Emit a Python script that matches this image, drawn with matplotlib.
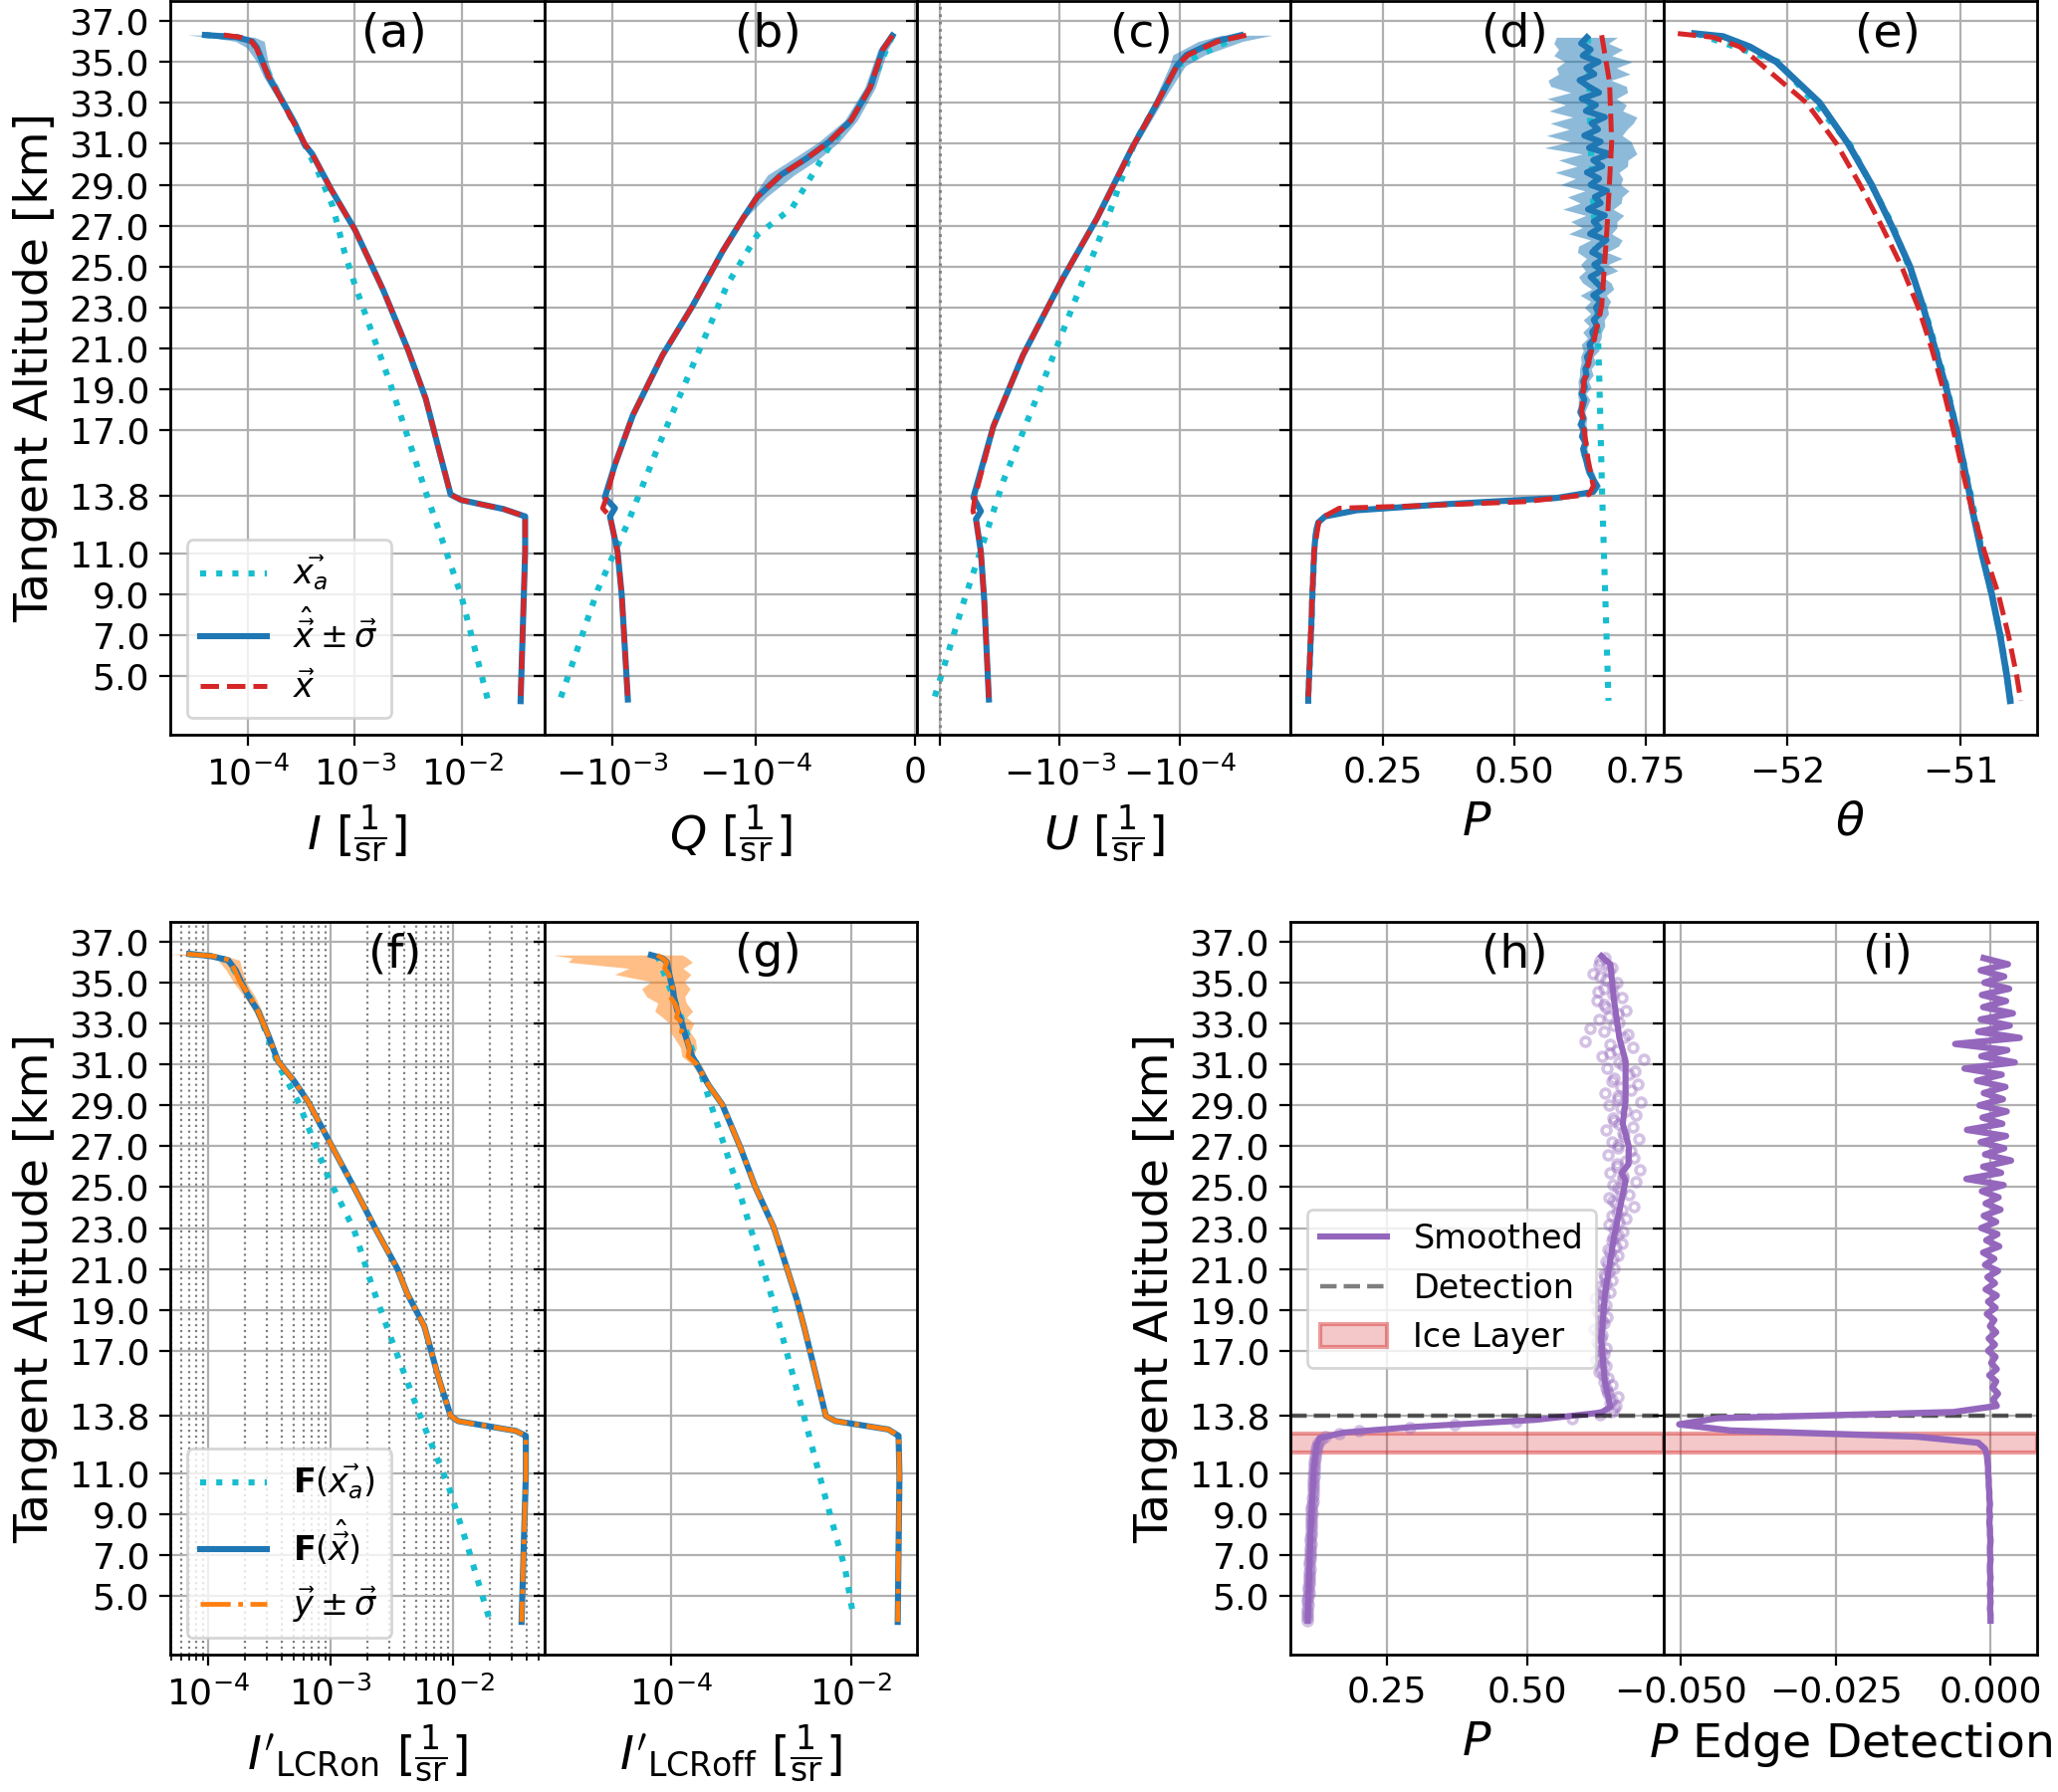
import numpy as np
import matplotlib
matplotlib.use("Agg")
import matplotlib.pyplot as plt
from matplotlib.ticker import (NullLocator, FixedLocator, FormatStrFormatter,
                               LogLocator, NullFormatter)
from matplotlib.lines import Line2D
from matplotlib.patches import Patch

plt.rcParams.update({
    "font.family": ["DejaVu Sans"],
    "xtick.labelsize": 13, "ytick.labelsize": 13,
    "axes.labelsize": 17, "legend.fontsize": 12,
    "xtick.major.size": 4, "ytick.major.size": 4,
    "axes.linewidth": 1.0,
})

C_APR, C_RET, C_TRUE, C_MEAS, C_PUR = "#17becf", "#1f77b4", "#d62728", "#ff7f0e", "#9467bd"
LW_APR, LW_RET, LW_TRUE = 2.2, 2.2, 1.8

# ---------------- data ----------------
yticks = [5, 7, 9, 11, 13.8, 17, 19, 21, 23, 25, 27, 29, 31, 33, 35, 37]
detection_alt = 13.8
ice_layer = [12.0, 12.95]

# (a) I
a_alt = [36.31, 36.2, 36.0, 35.7, 35.0, 34.28, 33.15, 32.0, 30.96, 30.5,
         28.77, 26.8, 23.87, 20.94, 18.55, 16.0, 13.87, 13.6, 13.16, 12.8, 11.07, 3.78]
a_ret = [4.0e-5, 8.0e-5, 1.1e-4, 1.22e-4, 1.38e-4, 1.56e-4, 2.07e-4, 2.75e-4, 3.4e-4, 4.0e-4,
         6.0e-4, 1.0e-3, 1.83e-3, 3.12e-3, 4.57e-3, 6.1e-3, 7.8e-3, 9.8e-3, 2.43e-2, 3.86e-2, 3.86e-2, 3.5e-2]
a_rel = [0.32, 0.45, 0.3, 0.2, 0.12, 0.1, 0.08, 0.07, 0.05, 0.03,
         0.02, 0.02, 0.02, 0.02, 0.02, 0.02, 0.02, 0.02, 0.02, 0.02, 0.02, 0.02]
a_true = [6.0e-5, 8.5e-5, 1.08e-4, 1.2e-4, 1.37e-4, 1.58e-4, 2.05e-4, 2.7e-4, 3.45e-4, 4.0e-4,
          6.0e-4, 1.0e-3, 1.83e-3, 3.12e-3, 4.57e-3, 6.1e-3, 7.8e-3, 9.8e-3, 2.43e-2, 3.86e-2, 3.86e-2, 3.5e-2]
a_apr_alt = [36.31, 36.2, 36.0, 35.0, 33.15, 30.96, 29.66, 27.96, 25.7, 24.1, 19.3, 14.0, 8.93, 3.86]
a_apr = [4.0e-5, 8.0e-5, 1.1e-4, 1.38e-4, 2.07e-4, 3.4e-4, 4.5e-4, 6.2e-4, 8.0e-4, 1.0e-3,
         2.13e-3, 4.57e-3, 9.8e-3, 1.73e-2]

# (b) Q
b_alt = [36.28, 35.6, 33.74, 32.14, 31.08, 30.28, 29.48, 28.4, 27.34, 25.75,
         23.07, 20.67, 17.74, 15.33, 13.73, 13.2, 12.8, 11.07, 8.93, 3.86]
b_ret = [-1.4e-5, -2.0e-5, -2.8e-5, -4.0e-5, -5.4e-5, -6.8e-5, -8.4e-5, -9.9e-5, -1.23e-4, -1.7e-4,
         -2.76e-4, -4.47e-4, -7.2e-4, -9.6e-4, -1.13e-3, -9.6e-4, -1.04e-3, -9.2e-4, -8.6e-4, -7.8e-4]
b_true = [-1.4e-5, -2.0e-5, -2.8e-5, -4.0e-5, -5.4e-5, -6.8e-5, -8.4e-5, -9.9e-5, -1.23e-4, -1.7e-4,
          -2.76e-4, -4.47e-4, -7.2e-4, -9.6e-4, -1.1e-3, -1.17e-3, -1.04e-3, -9.2e-4, -8.6e-4, -7.8e-4]
b_rel = [0.15, 0.15, 0.12, 0.10, 0.12, 0.12, 0.10, 0.06, 0.03, 0.02,
         0.02, 0.02, 0.02, 0.02, 0.02, 0.02, 0.02, 0.02, 0.02, 0.02]
b_apr_alt = [36.28, 33.74, 32.14, 31.0, 27.87, 26.54, 24.14, 20.67, 16.13, 12.4, 9.2, 3.86]
b_apr = [-1.4e-5, -2.8e-5, -4.0e-5, -5.25e-5, -7.7e-5, -9.9e-5, -1.57e-4, -2.56e-4, -4.84e-4, -7.9e-4, -1.27e-3, -2.32e-3]

# (c) U
c_alt = [36.3, 36.0, 35.34, 34.8, 32.95, 30.8, 27.36, 24.4, 20.67, 17.2,
         13.73, 13.06, 12.67, 11.07, 8.66, 3.86]
c_ret = [-3.1e-5, -5.0e-5, -8.8e-5, -1.06e-4, -1.56e-4, -2.5e-4, -4.9e-4, -9.5e-4, -2.03e-3, -3.58e-3,
         -5.25e-3, -4.55e-3, -5.0e-3, -4.55e-3, -4.26e-3, -3.9e-3]
c_true = [-2.8e-5, -4.8e-5, -8.5e-5, -1.06e-4, -1.56e-4, -2.5e-4, -4.9e-4, -9.5e-4, -2.03e-3, -3.58e-3,
          -5.1e-3, -5.3e-3, -5.0e-3, -4.55e-3, -4.26e-3, -3.9e-3]
c_rel = [0.45, 0.4, 0.3, 0.15, 0.08, 0.05, 0.03, 0.02, 0.02, 0.02,
         0.02, 0.02, 0.02, 0.02, 0.02, 0.02]
c_apr_alt = [36.3, 34.8, 32.95, 31.0, 27.36, 23.07, 19.33, 14.53, 11.6, 8.66, 3.86]
c_apr = [-3.1e-5, -1.06e-4, -1.56e-4, -2.4e-4, -4.0e-4, -7.8e-4, -1.39e-3, -2.96e-3, -4.3e-3, -6.3e-3, -1.12e-2]

# (d) P retrieved on fine grid, (h) raw points, (i) edge detection
alt_p = np.round(np.arange(3.8, 36.25, 0.3), 2)
p_ret = [.108, .108, .109, .109, .110, .110, .111, .111, .112, .112,
         .113, .113, .114, .114, .115, .115, .115, .116, .116, .117,
         .117, .118, .118, .119, .119, .120, .121, .122, .124, .127,
         .140, .200, .370, .580, .650, .657, .650, .644, .640, .637,
         .634, .631, .635, .629, .632, .627, .631, .626, .630, .633,
         .628, .634, .631, .637, .635, .641, .638, .646, .643, .652,
         .648, .657, .651, .662, .655, .664, .650, .668, .657, .645,
         .666, .652, .671, .648, .660, .675, .644, .662, .651, .672,
         .640, .664, .653, .676, .645, .661, .638, .667, .650, .681,
         .642, .664, .633, .659, .647, .672, .636, .655, .628, .661,
         .641, .624, .652, .637, .660, .630, .645, .627, .638]
p_sig = [.003, .003, .003, .003, .003, .003, .003, .003, .003, .003,
         .003, .003, .003, .003, .003, .003, .003, .003, .003, .003,
         .003, .003, .003, .003, .003, .003, .003, .003, .004, .004,
         .004, .005, .006, .006, .006, .007, .006, .008, .007, .006,
         .008, .007, .006, .008, .007, .009, .007, .008, .009, .011,
         .008, .012, .010, .013, .011, .014, .012, .015, .016, .013,
         .018, .015, .020, .017, .022, .019, .025, .021, .027, .023,
         .031, .026, .034, .028, .038, .030, .041, .033, .044, .036,
         .048, .039, .052, .042, .057, .045, .061, .048, .066, .052,
         .085, .058, .072, .055, .079, .061, .070, .058, .066, .054,
         .072, .060, .068, .057, .064, .055, .061, .052, .058]
p_edge = [.0000, .0000, -.0001, .0000, -.0001, .0000, -.0001, .0000, -.0001, -.0001,
          .0000, -.0001, -.0001, .0000, -.0001, -.0001, -.0002, -.0001, -.0002, -.0001,
          -.0002, -.0002, -.0003, -.0003, -.0004, -.0004, -.0005, -.0006, -.0009, -.0020,
          -.0120, -.0420, -.0502, -.0440, -.0060, .0010, .0004, .0012, .0003, .0009,
          -.0002, .0010, .0001, .0008, -.0004, .0007, -.0003, .0009, -.0001, .0006,
          -.0006, .0008, -.0004, .0010, -.0008, .0007, -.0005, .0012, -.0009, .0006,
          -.0012, .0014, -.0007, .0011, -.0015, .0009, -.0011, .0016, -.0008, .0013,
          -.0014, .0021, -.0039, .0017, -.0012, .0033, -.0009, .0022, -.0016, .0025,
          -.0038, .0019, -.0013, .0026, -.0018, .0020, -.0011, .0024, -.0022, .0018,
          -.0042, .0039, -.0015, .0027, -.0057, .0047, -.0020, .0031, -.0016, .0036,
          -.0012, .0025, -.0014, .0030, -.0010, .0022, -.0016, .0028, -.0011]
# second set of raw P points for (h), half-step offset altitudes
alt_p2 = np.round(alt_p[:-1] + 0.15, 2)
p_raw2 = [.109, .108, .110, .109, .111, .110, .112, .111, .113, .112,
          .114, .113, .115, .114, .116, .115, .116, .117, .116, .118,
          .118, .119, .118, .120, .120, .121, .122, .124, .126, .133,
          .165, .290, .480, .630, .655, .648, .661, .642, .650, .644,
          .628, .641, .622, .637, .640, .624, .633, .619, .636, .642,
          .625, .640, .620, .647, .629, .650, .636, .655, .641, .662,
          .644, .668, .652, .671, .646, .676, .659, .689, .653, .681,
          .662, .694, .670, .701, .659, .690, .684, .662, .699, .671,
          .688, .655, .693, .667, .702, .661, .684, .697, .655, .691,
          .670, .708, .648, .688, .603, .679, .611, .663, .645, .676,
          .637, .668, .626, .652, .640, .617, .650, .629]
d_true_alt = [36.3, 34.0, 31.08, 26.8, 23.07, 21.47, 19.33, 18.0, 15.6, 14.28,
              13.87, 13.52, 13.33, 13.2, 12.67, 11.07, 8.66, 3.86]
d_true = [0.666, 0.681, 0.685, 0.676, 0.666, 0.652, 0.632, 0.628, 0.640, 0.650,
          0.642, 0.519, 0.329, 0.167, 0.129, 0.119, 0.115, 0.108]
d_apr_alt = [36.2, 31.0, 27.0, 20.0, 13.8, 3.8]
d_apr = [0.640, 0.645, 0.652, 0.661, 0.667, 0.679]

# (e) theta
e_ret_alt = [36.38, 36.24, 35.74, 35.0, 33.0, 31.0, 29.0, 27.0, 25.0, 23.0,
             21.0, 19.0, 17.0, 13.8, 13.2, 11.0, 9.0, 7.0, 5.0, 3.8]
e_ret = [-52.533, -52.369, -52.215, -52.062, -51.812, -51.648, -51.513, -51.398, -51.292, -51.215,
         -51.148, -51.081, -51.023, -50.946, -50.935, -50.879, -50.821, -50.773, -50.734, -50.715]
e_true_alt = [36.38, 36.2, 35.74, 35.0, 33.0, 31.0, 29.0, 27.0, 25.0, 23.0,
              21.0, 19.0, 17.0, 13.8, 11.0, 9.0, 7.0, 5.0, 3.8]
e_true = [-52.629, -52.427, -52.273, -52.167, -51.888, -51.715, -51.580, -51.456, -51.340, -51.244,
          -51.167, -51.100, -51.042, -50.956, -50.860, -50.783, -50.725, -50.677, -50.654]
e_apr_alt = [36.38, 35.0, 31.0, 27.0, 23.0, 19.0, 13.8, 11.0, 7.0, 3.8]
e_apr = [-52.52, -52.05, -51.64, -51.39, -51.21, -51.075, -50.94, -50.875, -50.77, -50.712]

# (f) I'_LCRon
f_alt = [36.4, 36.3, 36.1, 35.6, 35.05, 34.3, 33.6, 32.4, 31.16, 30.2,
         29.2, 27.1, 24.67, 23.0, 21.0, 19.8, 18.19, 15.76, 13.81, 13.56,
         13.08, 12.84, 10.9, 3.74]
f_meas = [6.7e-5, 1.1e-4, 1.5e-4, 1.65e-4, 1.81e-4, 2.2e-4, 2.55e-4, 3.1e-4, 3.71e-4, 5.0e-4,
          6.5e-4, 1.0e-3, 1.65e-3, 2.3e-3, 3.5e-3, 4.2e-3, 5.8e-3, 7.5e-3, 9.5e-3, 1.09e-2,
          3.23e-2, 3.9e-2, 3.9e-2, 3.6e-2]
f_fwd = [7.0e-5, 1.05e-4, 1.45e-4, 1.68e-4, 1.85e-4, 2.15e-4, 2.55e-4, 3.1e-4, 3.71e-4, 5.0e-4,
         6.5e-4, 1.0e-3, 1.65e-3, 2.3e-3, 3.5e-3, 4.2e-3, 5.8e-3, 7.5e-3, 9.5e-3, 1.09e-2,
         3.23e-2, 3.9e-2, 3.9e-2, 3.6e-2]
f_rel = [0.3, 0.25, 0.2, 0.15, 0.12, 0.1, 0.08, 0.06, 0.05, 0.04,
         0.03, 0.02, 0.02, 0.02, 0.02, 0.02, 0.02, 0.02, 0.02, 0.02,
         0.02, 0.02, 0.02, 0.02]
f_apr_alt = [36.4, 36.3, 36.1, 35.05, 33.6, 31.0, 29.2, 25.5, 22.9, 20.1, 17.7, 13.63, 10.4, 7.48, 3.9]
f_apr = [7.0e-5, 1.05e-4, 1.45e-4, 1.85e-4, 2.55e-4, 3.71e-4, 5.4e-4, 9.5e-4, 1.55e-3, 2.19e-3,
         3.06e-3, 5.5e-3, 9.1e-3, 1.3e-2, 1.96e-2]

# (g) I'_LCRoff
g_alt = [36.35, 36.2, 36.0, 35.7, 35.4, 35.05, 34.7, 34.3, 34.0, 33.6,
         33.3, 33.0, 32.6, 32.2, 31.8, 31.4, 31.0, 30.0, 29.05, 26.94,
         25.0, 23.05, 21.0, 19.5, 18.19, 15.76, 13.81, 13.56, 13.15, 12.84,
         10.9, 3.74]
g_meas = [7.0e-5, 8.0e-5, 9.0e-5, 8.5e-5, 9.5e-5, 1.0e-4, 1.05e-4, 9.8e-5, 1.1e-4, 1.2e-4,
          1.15e-4, 1.38e-4, 1.3e-4, 1.5e-4, 1.6e-4, 1.55e-4, 1.94e-4, 2.6e-4, 3.7e-4, 5.9e-4,
          8.65e-4, 1.38e-3, 1.95e-3, 2.5e-3, 3.0e-3, 4.1e-3, 5.25e-3, 6.7e-3, 2.6e-2, 3.37e-2,
          3.45e-2, 3.3e-2]
g_fwd = [6.0e-5, 8.0e-5, 9.0e-5, 9.3e-5, 9.6e-5, 1.0e-4, 1.05e-4, 1.08e-4, 1.12e-4, 1.18e-4,
         1.25e-4, 1.33e-4, 1.4e-4, 1.5e-4, 1.6e-4, 1.72e-4, 1.94e-4, 2.6e-4, 3.7e-4, 5.9e-4,
         8.65e-4, 1.38e-3, 1.95e-3, 2.5e-3, 3.0e-3, 4.1e-3, 5.25e-3, 6.7e-3, 2.6e-2, 3.37e-2,
         3.45e-2, 3.3e-2]
g_rel = [0.93, 0.9, 0.92, 0.6, 0.75, 0.4, 0.55, 0.45, 0.35, 0.45,
         0.3, 0.3, 0.25, 0.25, 0.2, 0.15, 0.12, 0.08, 0.05, 0.03,
         0.02, 0.02, 0.02, 0.02, 0.02, 0.02, 0.02, 0.02, 0.02, 0.02,
         0.02, 0.02]
g_apr_alt = [36.35, 33.0, 31.0, 30.7, 29.2, 25.15, 19.47, 17.7, 13.8, 9.74, 6.33, 3.9]
g_apr = [7e-5, 1.38e-4, 1.94e-4, 2.1e-4, 2.7e-4, 5.4e-4, 1.35e-3, 1.73e-3, 3.0e-3, 5.25e-3, 8.6e-3, 1.07e-2]

# (h) smoothed P
h_alt = [3.8, 8.0, 11.3, 12.4, 12.72, 13.0, 13.28, 13.62, 13.98, 14.26,
         15.5, 17.47, 19.7, 22.5, 25.3, 25.7, 26.1, 26.97, 28.1, 29.2,
         31.17, 32.29, 34.24, 35.9, 36.3]
h_smooth = [0.109, 0.114, 0.120, 0.125, 0.130, 0.173, 0.301, 0.515, 0.632, 0.648,
            0.638, 0.632, 0.638, 0.654, 0.675, 0.668, 0.680, 0.681, 0.670, 0.675,
            0.675, 0.664, 0.654, 0.648, 0.632]

# ---------------- layout ----------------
W, H = 2067, 1800
fig = plt.figure(figsize=(W / 200, H / 200), dpi=200)
cols = [171, 546.5, 921, 1296, 1671, 2046]
rows = {"top": (1, 738), "bot": (926, 1662)}


def make_ax(ci, row, sharey=None):
    x0, x1 = cols[ci], cols[ci + 1]
    yt, yb = rows[row]
    return fig.add_axes([x0 / W, 1 - yb / H, (x1 - x0) / W, (yb - yt) / H], sharey=sharey)


ax_a = make_ax(0, "top")
ax_b = make_ax(1, "top", ax_a)
ax_c = make_ax(2, "top", ax_a)
ax_d = make_ax(3, "top", ax_a)
ax_e = make_ax(4, "top", ax_a)
ax_f = make_ax(0, "bot", ax_a)
ax_g = make_ax(1, "bot", ax_a)
ax_h = make_ax(3, "bot", ax_a)
ax_i = make_ax(4, "bot", ax_a)

for ax in [ax_a, ax_b, ax_c, ax_d, ax_e, ax_f, ax_g, ax_h, ax_i]:
    ax.set_ylim(2.14, 37.97)
    ax.set_yticks(yticks)
    ax.yaxis.set_major_formatter(FormatStrFormatter("%.1f"))
    ax.grid(True, which="major", color="#b0b0b0", lw=0.8)
    ax.set_axisbelow(True)
for ax in [ax_b, ax_c, ax_d, ax_e, ax_g, ax_i]:
    ax.tick_params(labelleft=False)
for ax in [ax_a, ax_f, ax_h]:
    ax.set_ylabel("Tangent Altitude [km]")

for ax, lab in zip([ax_a, ax_b, ax_c, ax_d, ax_e, ax_f, ax_g, ax_h, ax_i],
                   ["(a)", "(b)", "(c)", "(d)", "(e)", "(f)", "(g)", "(h)", "(i)"]):
    ax.text(0.6, 0.986, lab, transform=ax.transAxes, ha="center", va="top", fontsize=17)


def arr(x):
    return np.asarray(x, dtype=float)


def profile(ax, alt, ret, rel, true, apr_alt, apr):
    ret = arr(ret); rel = arr(rel)
    ax.plot(apr, apr_alt, ls=":", color=C_APR, lw=LW_APR)
    ax.fill_betweenx(alt, ret * (1 - rel), ret * (1 + rel), color=C_RET, alpha=0.5, lw=0)
    ax.plot(ret, alt, "-", color=C_RET, lw=LW_RET)
    ax.plot(true, alt, "--", color=C_TRUE, lw=LW_TRUE)


# (a)
profile(ax_a, a_alt, a_ret, a_rel, a_true, a_apr_alt, a_apr)
ax_a.set_xscale("log")
ax_a.set_xlim(1.9e-5, 5.8e-2)
ax_a.xaxis.set_major_locator(FixedLocator([1e-4, 1e-3, 1e-2]))
ax_a.xaxis.set_minor_locator(NullLocator())
ax_a.set_xlabel(r"$I\ [\frac{1}{\mathrm{sr}}]$")
ax_a.legend(handles=[Line2D([], [], ls=":", color=C_APR, lw=LW_APR),
                     Line2D([], [], ls="-", color=C_RET, lw=LW_RET),
                     Line2D([], [], ls="--", color=C_TRUE, lw=LW_TRUE)],
            labels=[r"$\vec{x_a}$", r"$\hat{\vec{x}} \pm \vec{\sigma}$", r"$\vec{x}$"],
            loc="lower left")

# (b)
profile(ax_b, b_alt, b_ret, b_rel, b_true, b_apr_alt, b_apr)
ax_b.set_xscale("symlog", linthresh=1e-4)
ax_b.set_xlim(-3e-3, 1.5e-6)
ax_b.xaxis.set_major_locator(FixedLocator([-1e-3, -1e-4, 0]))
ax_b.xaxis.set_minor_locator(NullLocator())
ax_b.set_xlabel(r"$Q\ [\frac{1}{\mathrm{sr}}]$")

# (c)
profile(ax_c, c_alt, c_ret, c_rel, c_true, c_apr_alt, c_apr)
ax_c.set_xscale("symlog", linthresh=1e-6)
ax_c.set_xlim(-1.55e-2, -1.2e-5)
ax_c.axvline(-1e-2, color="gray", ls=":", lw=1)
ax_c.set_xticks([-1e-2, -1e-3, -1e-4],
                ["", r"$\mathdefault{-10^{-3}}$", r"$\mathdefault{-10^{-4}}$"])
ax_c.xaxis.set_minor_locator(NullLocator())
ax_c.set_xlabel(r"$U\ [\frac{1}{\mathrm{sr}}]$")

# (d)
pr = arr(p_ret); ps = arr(p_sig)
ax_d.plot(d_apr, d_apr_alt, ls=":", color=C_APR, lw=LW_APR)
ax_d.fill_betweenx(alt_p, pr - ps, pr + ps, color=C_RET, alpha=0.5, lw=0)
ax_d.plot(pr, alt_p, "-", color=C_RET, lw=LW_RET)
ax_d.plot(d_true, d_true_alt, "--", color=C_TRUE, lw=LW_TRUE)
ax_d.set_xlim(0.074, 0.784)
ax_d.set_xticks([0.25, 0.5, 0.75])
ax_d.set_xlabel(r"$P$")

# (e)
ax_e.plot(e_apr, e_apr_alt, ls=":", color=C_APR, lw=LW_APR)
ax_e.plot(e_ret, e_ret_alt, "-", color=C_RET, lw=2.4)
ax_e.plot(e_true, e_true_alt, "--", color=C_TRUE, lw=LW_TRUE)
ax_e.set_xlim(-52.71, -50.56)
ax_e.set_xticks([-52, -51])
ax_e.set_xlabel(r"$\theta$")


# (f)
def fwd_profile(ax, alt, meas, rel, fwd, apr_alt, apr):
    meas = arr(meas); rel = arr(rel)
    ax.plot(apr, apr_alt, ls=":", color=C_APR, lw=LW_APR)
    ax.fill_betweenx(alt, meas * (1 - rel), meas * (1 + rel), color=C_MEAS, alpha=0.5, lw=0)
    ax.plot(fwd, alt, "-", color=C_RET, lw=LW_RET)
    ax.plot(meas, alt, "-.", color=C_MEAS, lw=1.7)


fwd_profile(ax_f, f_alt, f_meas, f_rel, f_fwd, f_apr_alt, f_apr)
ax_f.set_xscale("log")
ax_f.set_xlim(4.9e-5, 0.055)
ax_f.xaxis.set_major_locator(FixedLocator([1e-4, 1e-3, 1e-2]))
ax_f.xaxis.set_minor_locator(LogLocator(base=10, subs=np.arange(2, 10), numticks=20))
ax_f.xaxis.set_minor_formatter(NullFormatter())
ax_f.grid(True, which="minor", axis="x", color="gray", ls=":", lw=0.8)
ax_f.set_xlabel(r"$I'_{\mathrm{LCRon}}\ [\frac{1}{\mathrm{sr}}]$")
ax_f.legend(handles=[Line2D([], [], ls=":", color=C_APR, lw=LW_APR),
                     Line2D([], [], ls="-", color=C_RET, lw=LW_RET),
                     Line2D([], [], ls="-.", color=C_MEAS, lw=1.7)],
            labels=[r"$\mathbf{F}(\vec{x_a})$", r"$\mathbf{F}(\hat{\vec{x}})$",
                    r"$\vec{y} \pm \vec{\sigma}$"],
            loc="lower left")

# (g)
fwd_profile(ax_g, g_alt, g_meas, g_rel, g_fwd, g_apr_alt, g_apr)
ax_g.set_xscale("log")
ax_g.set_xlim(3.9e-6, 0.054)
ax_g.xaxis.set_major_locator(FixedLocator([1e-4, 1e-2]))
ax_g.xaxis.set_minor_locator(NullLocator())
ax_g.set_xlabel(r"$I'_{\mathrm{LCRoff}}\ [\frac{1}{\mathrm{sr}}]$")

# (h)
ice_kw = dict(facecolor=(0.84, 0.15, 0.16, 0.25), edgecolor=(0.84, 0.15, 0.16, 0.45), lw=1.5)
for ax in [ax_h, ax_i]:
    ax.axhspan(ice_layer[0], ice_layer[1], **ice_kw)
ax_h.plot(pr, alt_p, "o", mfc="none", mec=C_PUR, alpha=0.4, ms=3.2, mew=1.3)
ax_h.plot(p_raw2, alt_p2, "o", mfc="none", mec=C_PUR, alpha=0.4, ms=3.2, mew=1.3)
ax_h.plot(h_smooth, h_alt, "-", color=C_PUR, lw=2.2)
for ax in [ax_h, ax_i]:
    ax.axhline(detection_alt, color="k", ls="--", lw=1.6, alpha=0.6)
ax_h.set_xlim(0.078, 0.743)
ax_h.set_xticks([0.25, 0.5])
ax_h.set_xlabel(r"$P$")
ax_h.legend(handles=[Line2D([], [], color=C_PUR, lw=2.2),
                     Line2D([], [], color="k", ls="--", lw=1.6, alpha=0.5),
                     Patch(**ice_kw)],
            labels=["Smoothed", "Detection", "Ice Layer"], loc="center left")

# (i)
ax_i.plot(p_edge, alt_p, "-", color=C_PUR, lw=2.3)
ax_i.set_xlim(-0.0527, 0.0075)
ax_i.set_xticks([-0.05, -0.025, 0.0])
ax_i.set_xlabel(r"$P$ Edge Detection")

fig.savefig("out.png", dpi=200)
